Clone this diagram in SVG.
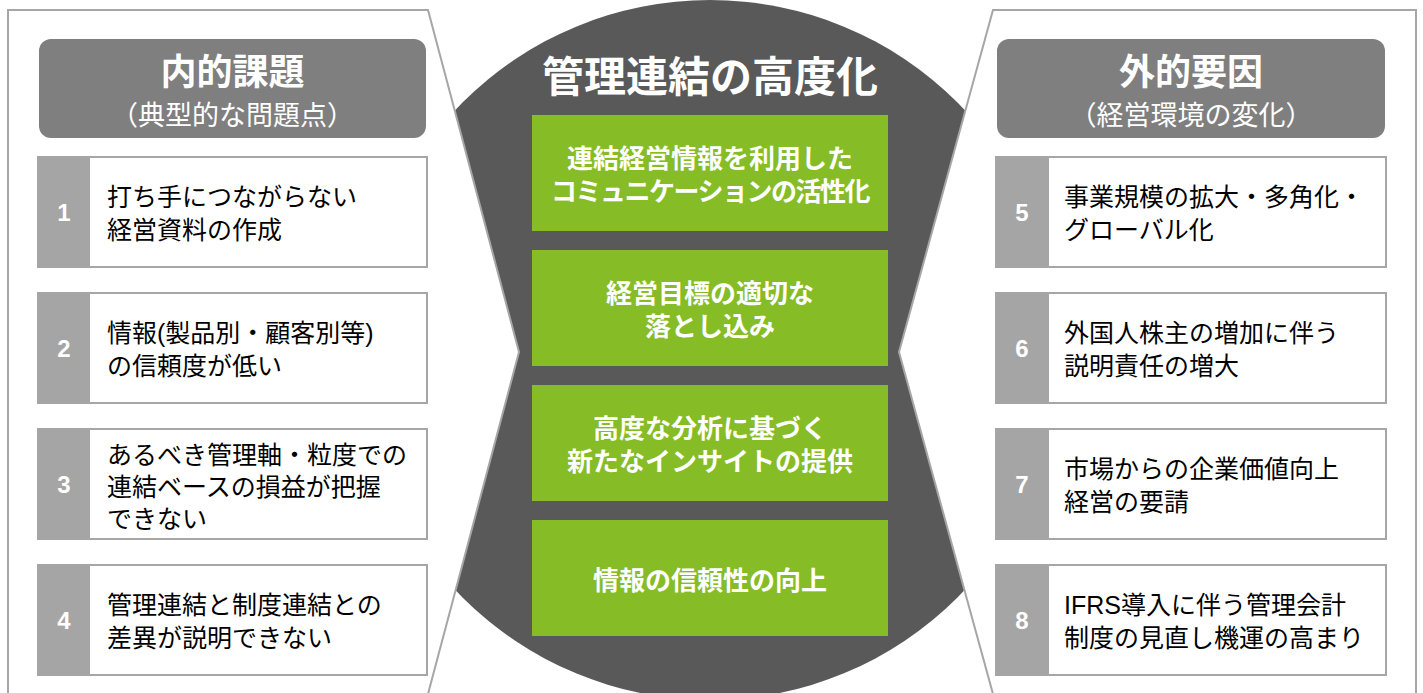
<svg xmlns="http://www.w3.org/2000/svg" width="1423" height="693" viewBox="0 0 1423 693">
<style>
.panel{fill:#ffffff;stroke:#a6a6a6;stroke-width:2}
.hdr{fill:#7f7f7f}
.item{fill:#ffffff;stroke:#a6a6a6;stroke-width:2}
.num{fill:#a5a5a5}
.green{fill:#86bc25}
.numt{font-family:"Liberation Sans",Arial,sans-serif;font-weight:bold;font-size:24px;fill:#ffffff;text-anchor:middle}
.it{font-family:"Liberation Sans","Noto Sans CJK JP",sans-serif;font-size:25px;fill:#000000}
.h1{font-family:"Liberation Sans","Noto Sans CJK JP",sans-serif;font-weight:bold;font-size:36px;fill:#ffffff;text-anchor:middle}
.h2{font-family:"Liberation Sans","Noto Sans CJK JP",sans-serif;font-size:27px;fill:#ffffff;text-anchor:middle}
.gt{font-family:"Liberation Sans","Noto Sans CJK JP",sans-serif;font-weight:bold;font-size:26px;fill:#ffffff;text-anchor:middle}
.title{font-family:"Liberation Sans","Noto Sans CJK JP",sans-serif;font-weight:bold;font-size:42px;fill:#ffffff;text-anchor:middle}
</style>
<rect width="1423" height="693" fill="#ffffff"/>
<g id="center-shape">
<circle cx="710" cy="350" r="350" fill="#595959"/>
</g>
<g id="left-panel">
<polygon class="panel" points="8,10 428,10 519,352 428,694 8,694"/>
</g>
<g id="right-panel">
<polygon class="panel" points="993,10 1416,10 1416,694 993,694 899,352"/>
</g>
<g id="center-title">
<text class="title" x="710" y="92">管理連結の高度化</text>
</g>
<g id="goal-1">
<rect class="green" x="532" y="115" width="356" height="116"/>
<text class="gt" x="710" y="168">連結経営情報を利用した</text>
<text class="gt" x="710" y="201" letter-spacing="-1.5">コミュニケーションの活性化</text>
</g>
<g id="goal-2">
<rect class="green" x="532" y="250" width="356" height="116"/>
<text class="gt" x="710" y="303">経営目標の適切な</text>
<text class="gt" x="710" y="336">落とし込み</text>
</g>
<g id="goal-3">
<rect class="green" x="532" y="385" width="356" height="116"/>
<text class="gt" x="710" y="438">高度な分析に基づく</text>
<text class="gt" x="710" y="471">新たなインサイトの提供</text>
</g>
<g id="goal-4">
<rect class="green" x="532" y="520" width="356" height="116"/>
<text class="gt" x="710" y="590">情報の信頼性の向上</text>
</g>
<g id="left-header">
<rect class="hdr" x="39" y="39" width="387" height="99" rx="12"/>
<text class="h1" x="232.5" y="85">内的課題</text>
<text class="h2" x="232.5" y="125">（典型的な問題点）</text>
</g>
<g id="right-header">
<rect class="hdr" x="997" y="39" width="388" height="99" rx="12"/>
<text class="h1" x="1191" y="85">外的要因</text>
<text class="h2" x="1191" y="125">（経営環境の変化）</text>
</g>
<g id="item-1">
<rect class="item" x="38" y="157" width="389" height="110"/>
<rect class="num" x="38" y="157" width="52" height="110"/>
<text class="numt" x="64" y="221">1</text>
<text class="it" x="107" y="206">打ち手につながらない</text>
<text class="it" x="107" y="239">経営資料の作成</text>
</g>
<g id="item-2">
<rect class="item" x="38" y="293" width="389" height="110"/>
<rect class="num" x="38" y="293" width="52" height="110"/>
<text class="numt" x="64" y="357">2</text>
<text class="it" x="107" y="342">情報(製品別・顧客別等)</text>
<text class="it" x="107" y="375">の信頼度が低い</text>
</g>
<g id="item-3">
<rect class="item" x="38" y="429" width="389" height="110"/>
<rect class="num" x="38" y="429" width="52" height="110"/>
<text class="numt" x="64" y="493">3</text>
<text class="it" x="107" y="464">あるべき管理軸・粒度での</text>
<text class="it" x="107" y="496">連結ベースの損益が把握</text>
<text class="it" x="107" y="528">できない</text>
</g>
<g id="item-4">
<rect class="item" x="38" y="565" width="389" height="110"/>
<rect class="num" x="38" y="565" width="52" height="110"/>
<text class="numt" x="64" y="629">4</text>
<text class="it" x="107" y="614">管理連結と制度連結との</text>
<text class="it" x="107" y="647">差異が説明できない</text>
</g>
<g id="item-5">
<rect class="item" x="996" y="157" width="390" height="110"/>
<rect class="num" x="996" y="157" width="53" height="110"/>
<text class="numt" x="1022" y="221">5</text>
<text class="it" x="1064" y="206">事業規模の拡大・多角化・</text>
<text class="it" x="1064" y="239">グローバル化</text>
</g>
<g id="item-6">
<rect class="item" x="996" y="293" width="390" height="110"/>
<rect class="num" x="996" y="293" width="53" height="110"/>
<text class="numt" x="1022" y="357">6</text>
<text class="it" x="1064" y="342">外国人株主の増加に伴う</text>
<text class="it" x="1064" y="375">説明責任の増大</text>
</g>
<g id="item-7">
<rect class="item" x="996" y="429" width="390" height="110"/>
<rect class="num" x="996" y="429" width="53" height="110"/>
<text class="numt" x="1022" y="493">7</text>
<text class="it" x="1064" y="478">市場からの企業価値向上</text>
<text class="it" x="1064" y="511">経営の要請</text>
</g>
<g id="item-8">
<rect class="item" x="996" y="565" width="390" height="110"/>
<rect class="num" x="996" y="565" width="53" height="110"/>
<text class="numt" x="1022" y="629">8</text>
<text class="it" x="1064" y="614">IFRS導入に伴う管理会計</text>
<text class="it" x="1064" y="647">制度の見直し機運の高まり</text>
</g>
<g id="connectors"/>
</svg>
